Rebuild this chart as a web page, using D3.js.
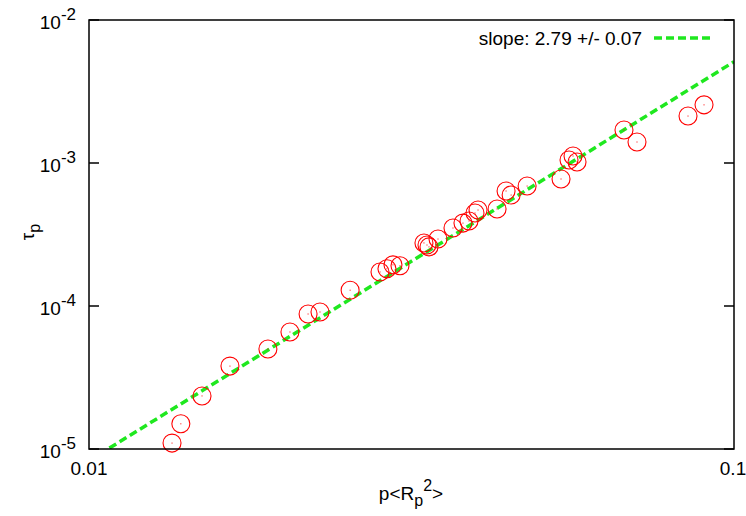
<!DOCTYPE html>
<html>
<head>
<meta charset="utf-8">
<script src="https://cdn.jsdelivr.net/npm/d3@7"></script>
<style>
  body { margin: 0; background: #fff; }
  text { font-family: "Liberation Sans", Arial, Helvetica, sans-serif; }
</style>
</head>
<body>
<div id="chart"></div>
<script>
// measured points: p<Rp^2> and tau_p
var pVals = [0.01345, 0.01388, 0.01497, 0.01654, 0.01894, 0.02049, 0.02186, 0.02281,
  0.02540, 0.02826, 0.02897, 0.02960, 0.03035, 0.03306, 0.03342, 0.03366, 0.03476,
  0.03667, 0.03800, 0.03883, 0.03967, 0.04010, 0.04292, 0.04432, 0.04513, 0.04778,
  0.05393, 0.05549, 0.05629, 0.05710, 0.06752, 0.07073, 0.08486, 0.08985];
var tauVals = [1.10e-5, 1.50e-5, 2.35e-5, 3.80e-5, 5.00e-5, 6.58e-5, 8.79e-5, 9.08e-5,
  1.29e-4, 1.73e-4, 1.82e-4, 1.94e-4, 1.91e-4, 2.76e-4, 2.67e-4, 2.59e-4, 2.94e-4,
  3.51e-4, 3.80e-4, 3.93e-4, 4.47e-4, 4.69e-4, 4.77e-4, 6.37e-4, 5.97e-4, 6.90e-4,
  7.73e-4, 1.050e-3, 1.119e-3, 1.016e-3, 1.702e-3, 1.402e-3, 2.13e-3, 2.55e-3];

// power law fit: log10(tau) = slope*log10(p) + logA
var fitSlope = 2.79;
var fitErr = 0.07;
var fitLogA = 0.498;

var xTicks = [0.01, 0.1];
var xTickLabels = ["0.01", "0.1"];
var yTicks = [1e-5, 1e-4, 1e-3, 1e-2];
var yTickExp = ["-5", "-4", "-3", "-2"];

var width = 746, height = 516;
var margin = {top: 20, right: 12, bottom: 67, left: 89};

var svg = d3.select("#chart")
  .append("svg")
  .attr("width", width)
  .attr("height", height);

var x = d3.scaleLog()
  .domain([0.01, 0.1])
  .range([margin.left, width - margin.right]);

var y = d3.scaleLog()
  .domain([1e-5, 1e-2])
  .range([height - margin.bottom, margin.top]);

var x0 = x.range()[0], x1 = x.range()[1];
var y0 = y.range()[0], y1 = y.range()[1];

svg.append("clipPath").attr("id", "clip")
  .append("rect")
  .attr("x", x0).attr("y", y1)
  .attr("width", x1 - x0).attr("height", y0 - y1);

// tick marks (mirrored on right side)
var ticks = svg.append("g").attr("class", "ticks");
yTicks.forEach(function(t) {
  ticks.append("line")
    .attr("x1", x0).attr("x2", x0 + 10)
    .attr("y1", y(t)).attr("y2", y(t))
    .attr("stroke", "black").attr("stroke-width", 1.5);
  ticks.append("line")
    .attr("x1", x1).attr("x2", x1 - 10)
    .attr("y1", y(t)).attr("y2", y(t))
    .attr("stroke", "black").attr("stroke-width", 1.5);
});

// y tick labels 10^n
yTicks.forEach(function(t, i) {
  var lab = svg.append("text")
    .attr("x", x0 - 13)
    .attr("y", y(t) + 9)
    .attr("text-anchor", "end")
    .style("font-size", "19px")
    .attr("fill", "black");
  lab.append("tspan").text("10");
  lab.append("tspan")
    .attr("dy", -9)
    .style("font-size", "17px")
    .text(yTickExp[i]);
});

// x tick labels
xTicks.forEach(function(t, i) {
  svg.append("text")
    .attr("x", x(t) - (i == 1 ? 1 : 0))
    .attr("y", y0 + 26)
    .attr("text-anchor", "middle")
    .style("font-size", "19px")
    .text(xTickLabels[i]);
});

// fit line
var fitLine = d3.line()
  .x(function(d) { return x(d); })
  .y(function(d) { return y(Math.pow(10, fitLogA) * Math.pow(d, fitSlope)); });

svg.append("path")
  .datum(xTicks)
  .attr("clip-path", "url(#clip)")
  .attr("fill", "none")
  .attr("stroke", "#1fe81f")
  .attr("stroke-width", 3.5)
  .attr("stroke-dasharray", "8,4")
  .attr("d", fitLine);

// data points
var pts = svg.append("g").attr("class", "points");
pVals.forEach(function(p, i) {
  pts.append("circle")
    .attr("cx", x(p)).attr("cy", y(tauVals[i]))
    .attr("r", 9)
    .attr("fill", "none")
    .attr("stroke", "#ff0000")
    .attr("stroke-width", 1.1);
  pts.append("rect")
    .attr("x", x(p) - 0.5).attr("y", y(tauVals[i]) - 0.5)
    .attr("width", 1).attr("height", 1)
    .attr("fill", "#ff0000");
});

// frame
svg.append("rect")
  .attr("x", x0).attr("y", y1)
  .attr("width", x1 - x0).attr("height", y0 - y1)
  .attr("fill", "none")
  .attr("stroke", "black")
  .attr("stroke-width", 1.5);

// legend
svg.append("text")
  .attr("x", 642)
  .attr("y", 45)
  .attr("text-anchor", "end")
  .style("font-size", "19px")
  .text("slope: " + fitSlope.toFixed(2) + " +/- " + fitErr.toFixed(2));
svg.append("line")
  .attr("x1", 654).attr("x2", 711)
  .attr("y1", 38).attr("y2", 38)
  .attr("stroke", "#1fe81f")
  .attr("stroke-width", 3.5)
  .attr("stroke-dasharray", "8,4");

// axis titles
var xt = svg.append("text")
  .attr("x", 411)
  .attr("y", 500)
  .attr("text-anchor", "middle")
  .style("font-size", "19px");
xt.append("tspan").text("p<R");
xt.append("tspan").attr("dy", 6).style("font-size", "16px").text("p");
xt.append("tspan").attr("dy", -15).style("font-size", "16px").text("2");
xt.append("tspan").attr("dy", 9).text(">");

var yt = svg.append("text")
  .attr("transform", "translate(34,232) rotate(-90)")
  .attr("text-anchor", "middle")
  .style("font-size", "19px");
yt.append("tspan").text("\u03c4");
yt.append("tspan").attr("dy", 6).style("font-size", "16px").text("p");
</script>
</body>
</html>
